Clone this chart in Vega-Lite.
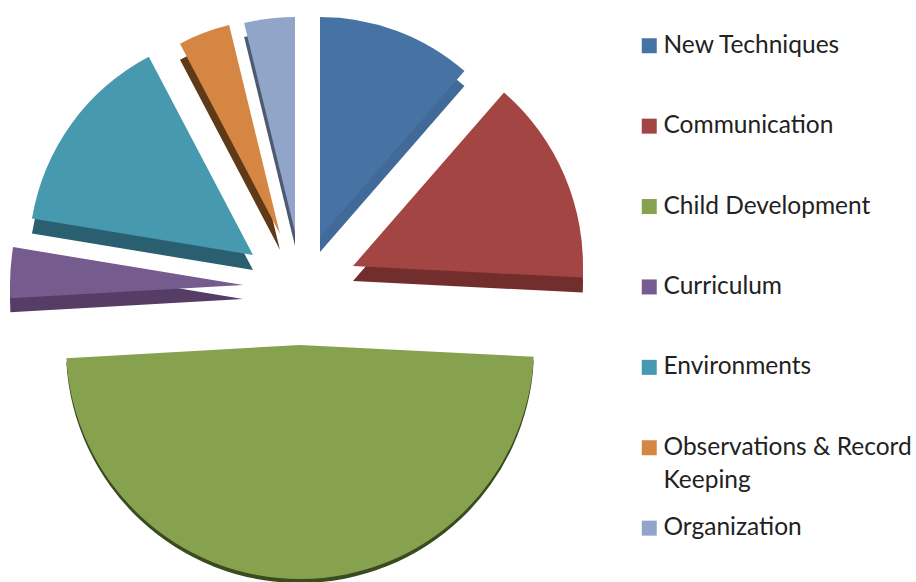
{
  "$schema": "https://vega.github.io/schema/vega-lite/v6.json",
  "width": 916,
  "height": 582,
  "padding": 0,
  "autosize": {"type": "none"},
  "background": "white",
  "view": {"stroke": null},
  "config": {"style": {"guide-label": {"lineHeight": 33}}},
  "data": {
    "values": [
      {"topic": "New Techniques", "order": 1, "share": 11.4, "explodeX": 320, "explodeY": 237, "reach": 220, "depth": 15},
      {"topic": "Communication", "order": 2, "share": 14.4, "explodeX": 353, "explodeY": 266, "reach": 230, "depth": 15},
      {"topic": "Child Development", "order": 3, "share": 48.3, "explodeX": 300, "explodeY": 345, "reach": 234, "depth": 4},
      {"topic": "Curriculum", "order": 4, "share": 3.5, "explodeX": 243, "explodeY": 285, "reach": 233, "depth": 14},
      {"topic": "Environments", "order": 5, "share": 14.7, "explodeX": 253, "explodeY": 255, "reach": 224, "depth": 15},
      {"topic": "Observations & Record Keeping", "order": 6, "share": 3.9, "explodeX": 280, "explodeY": 234, "reach": 215, "depth": 16},
      {"topic": "Organization", "order": 7, "share": 3.8, "explodeX": 295, "explodeY": 232, "reach": 215, "depth": 14}
    ]
  },
  "transform": [
    {"stack": "share", "sort": [{"field": "order", "order": "ascending"}], "as": ["start", "end"]},
    {"calculate": "datum.explodeY + datum.depth", "as": "rimY"}
  ],
  "encoding": {
    "x": {"field": "explodeX", "type": "quantitative", "scale": {"domain": [0, 916], "range": [0, 916], "zero": false, "nice": false}, "axis": null},
    "theta": {"field": "start", "type": "quantitative", "stack": null, "scale": {"domain": [0, 100]}},
    "theta2": {"field": "end"},
    "radius": {"field": "reach", "type": "quantitative", "scale": {"type": "linear", "domain": [0, 300], "range": [0, 300]}}
  },
  "layer": [
    {
      "mark": {"type": "arc"},
      "encoding": {
        "y": {"field": "rimY", "type": "quantitative", "scale": {"domain": [0, 582], "range": [0, 582], "nice": false}, "axis": null},
        "fill": {
          "field": "topic",
          "type": "nominal",
          "legend": null,
          "scale": {
            "domain": ["New Techniques", "Communication", "Child Development", "Curriculum", "Environments", "Observations & Record Keeping", "Organization"],
            "range": ["#416a98", "#722e2c", "#3b4a1f", "#553d66", "#295f70", "#5e3a18", "#4e5a72"]
          }
        }
      }
    },
    {
      "mark": {"type": "arc"},
      "encoding": {
        "y": {"field": "explodeY", "type": "quantitative", "scale": {"domain": [0, 582], "range": [0, 582], "nice": false}, "axis": null},
        "color": {
          "field": "topic",
          "type": "nominal",
          "scale": {
            "domain": ["New Techniques", "Communication", "Child Development", "Curriculum", "Environments", "Observations & Record Keeping", "Organization"],
            "range": ["#4672a4", "#a34643", "#86a24f", "#755b8e", "#4699ae", "#d58643", "#90a5c8"]
          },
          "legend": {
            "title": null,
            "orient": "none",
            "legendX": 637,
            "legendY": 33.5,
            "symbolType": "square",
            "symbolSize": 225,
            "symbolStrokeWidth": 0,
            "symbolOpacity": 1,
            "labelFont": "Lato",
            "labelFontSize": 24.5,
            "labelColor": "#222222",
            "labelLimit": 400,
            "labelOffset": 2,
            "gridAlign": "all",
            "rowPadding": 22.4,
            "padding": 0,
            "labelExpr": "datum.value == 'Observations & Record Keeping' ? ['Observations & Record', 'Keeping'] : datum.label",
            "encoding": {
              "labels": {
                "update": {
                  "dy": {"signal": "datum.value == 'Observations & Record Keeping' ? 16.5 : 0"}
                }
              }
            }
          }
        }
      }
    }
  ],
  "resolve": {"scale": {"color": "independent", "fill": "independent"}}
}
